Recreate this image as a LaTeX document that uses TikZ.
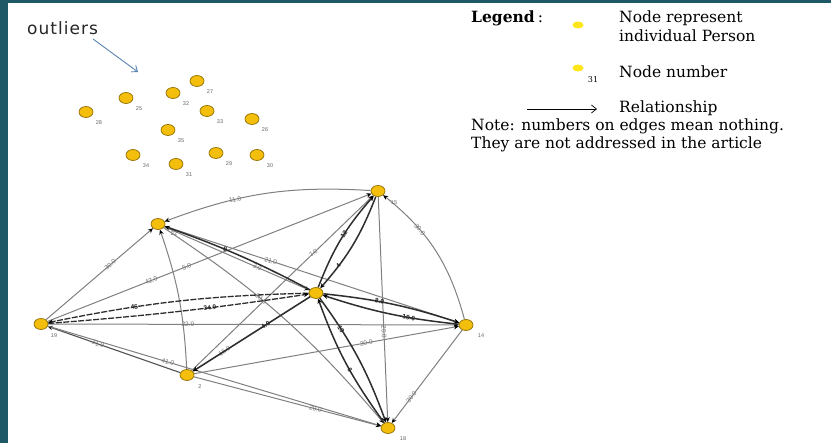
\documentclass[tikz,border=0pt]{standalone}
\usepackage{fontspec}
\setmainfont{DejaVu Serif}
\setsansfont{Liberation Sans}
\newfontfamily\outfont{DejaVu Sans}[LetterSpace=6]
\usetikzlibrary{shapes.geometric,arrows.meta}
\definecolor{bordercol}{HTML}{1F5866}
\definecolor{nodegold}{HTML}{F4BE0C}
\definecolor{nodeline}{HTML}{8E6E00}
\definecolor{legyellow}{HTML}{FFE61A}
\definecolor{outarrow}{HTML}{5B84B5}
\pgfdeclarelayer{bg}
\pgfsetlayers{bg,main}
\begin{document}
\begin{tikzpicture}[x=1pt,y=1pt,
  pnode/.style={ellipse, draw=nodeline, fill=nodegold, line width=0.7pt, minimum width=14pt, minimum height=11pt, inner sep=0pt},
  nlab/.style={font=\sffamily\fontsize{5.5}{6}\selectfont, text=black!60, inner sep=0pt},
  gedge/.style={draw=black!50, line width=1pt},
  medge/.style={draw=black!68, line width=1.1pt},
  dedge/.style={draw=black!82, line width=1.5pt},
  ddash/.style={draw=black!82, line width=1.3pt, dash pattern=on 6pt off 1.5pt},
  arr/.style={-{Stealth[length=5pt,width=4.5pt,color=black]}},
  elab/.style={font=\sffamily\fontsize{6.5}{6.5}\selectfont, text=black!55, sloped, inner sep=0.5pt},
  dlab/.style={font=\sffamily\bfseries\fontsize{6.5}{6.5}\selectfont, text=black!85, sloped, inner sep=0.5pt},
  legtext/.style={font=\fontsize{15.5}{16}\selectfont, anchor=base west, inner sep=0pt},
  legdot/.style={ellipse, fill=legyellow, minimum width=11pt, minimum height=7pt, inner sep=0pt},
]
\useasboundingbox (0,0) rectangle (831,-443);
\begin{pgfonlayer}{bg}
\fill[white] (0,0) rectangle (831,-443);
\fill[bordercol] (0,0) rectangle (8,-443);
\fill[bordercol] (0,0) rectangle (831,-3);
\end{pgfonlayer}

% outliers label and arrow
\node[font=\outfont\fontsize{17}{17}\selectfont, anchor=base west, inner sep=0pt, text=black!85] (outl) at (27,-35) {outliers};
\coordinate (oa1) at (93,-39);
\coordinate (oa2) at (138,-72);
\draw[outarrow, line width=0.9pt, -{Straight Barb[length=5pt,width=8pt]}] (oa1) -- (oa2);

% outlier nodes
\foreach \nm/\x/\y in {27/197/81, 32/173/93, 25/126/98, 28/86/112, 33/207/111, 26/252/119, 35/168/130, 34/133/155, 31/176/164, 29/216/153, 30/257/155}{
  \node[pnode] (o\nm) at (\x,-\y) {};
  \node[nlab] (ol\nm) at (\x+13,-\y-11) {\nm};
}

% legend
\node[legtext] (lg) at (471,-23) {\textbf{Legend}\hspace{3pt}:};
\node[legdot] (ld1) at (578,-25) {};
\node[legtext] (lt1) at (619,-23) {Node represent};
\node[legtext] (lt2) at (619,-42) {individual Person};
\node[legdot] (ld2) at (578,-68) {};
\node[font=\fontsize{8}{8}\selectfont, inner sep=0pt] (l31) at (593,-80) {31};
\node[legtext] (lt3) at (619,-78) {Node number};
\coordinate (la1) at (527,-109);
\coordinate (la2) at (597,-109);
\draw[black, line width=0.7pt, -{Straight Barb[length=5pt,width=8pt]}] (la1) -- (la2);
\node[legtext] (lt4) at (619,-113) {Relationship};
\node[legtext] (lt5) at (471,-131) {Note: numbers on edges mean nothing.};
\node[legtext] (lt6) at (471,-149) {They are not addressed in the article};

% network nodes
\node[pnode] (C) at (316,-293) {};
\node[pnode] (n15) at (378,-191) {};
\node[pnode] (n22) at (158,-224) {};
\node[pnode] (n19) at (41,-324) {};
\node[pnode] (n2) at (187,-375) {};
\node[pnode] (n18) at (388,-428) {};
\node[pnode] (n14) at (466,-325) {};
\node[nlab] (l15) at (394,-203) {15};
\node[nlab] (l22) at (174,-234) {22};
\node[nlab] (l19) at (54,-336) {19};
\node[nlab] (l2) at (200,-387) {2};
\node[nlab] (l18) at (403,-439) {18};
\node[nlab] (l14) at (481,-336) {14};

\begin{pgfonlayer}{bg}
% gray edges
\draw[gedge,arr] (n15) to[bend right=12] node[elab,pos=0.66]{11.0} (n22);
\draw[gedge,arr] (n19) -- node[elab,pos=0.6]{30.0} (n22);
\draw[gedge,arr] (n19) -- node[elab,pos=0.32]{42.0} node[elab,pos=0.43]{5.0} (n15);
\draw[gedge,arr] (n22) -- node[elab,pos=0.36]{21.0} (n14);
\draw[gedge,arr] (n22) -- node[elab,pos=0.64]{3.0} (C);
\draw[gedge,arr] (n22) to[bend left=8] node[elab,pos=0.4]{20.0} (n18);
\draw[gedge,arr] (n2) to[bend right=8] (n22);
\draw[gedge,arr] (n19) -- node[elab,pos=0.34]{22.0} (n14);
\draw[medge,arr] (n2) -- node[elab,pos=0.62]{21.0} (n19);
\draw[gedge,arr] (n19) -- node[elab,pos=0.36]{41.0} (n18);
\draw[gedge,arr] (n2) -- node[elab,pos=0.65]{29.0} (n18);
\draw[gedge,arr] (n2) -- node[elab,pos=0.67]{7.0} (n15);
\draw[gedge,arr] (C) -- node[elab,pos=0.73]{15.0} (n2);
\draw[gedge,arr] (n2) -- node[elab,pos=0.65]{30.0} (n14);
\draw[gedge,arr] (n15) -- node[elab,pos=0.6]{20.0} (n18);
\draw[gedge,arr] (n14) to[bend right=18] node[elab,pos=0.68]{30.0} (n15);
\draw[gedge,arr] (n14) -- node[elab,pos=0.72]{30.0} (n18);
% dark edges
\draw[dedge,arr] (C) to[bend right=4] node[dlab,pos=0.6]{9} (n22);
\draw[ddash,arr] (C) to[bend right=5] node[dlab,pos=0.68]{45} (n19);
\draw[ddash,arr] (n19) to[bend right=2] node[dlab,pos=0.63]{34.0} (C);
\draw[dedge,arr] (C) -- node[dlab,pos=0.38]{4.0} (n2);
\draw[dedge,arr] (C) to[bend left=10] node[dlab,pos=0.55]{12} (n15);
\draw[dedge,arr] (n15) to[bend left=10] node[dlab,pos=0.75]{4} (C);
\draw[dedge,arr] (C) to[bend left=8] node[dlab,pos=0.25]{10} (n18);
\draw[dedge,arr] (n18) to[bend left=8] node[dlab,pos=0.44]{6} (C);
\draw[dedge,arr] (C) to[bend left=6] node[dlab,pos=0.4]{8.0} (n14);
\draw[dedge,arr] (n14) to[bend left=6] node[dlab,pos=0.35]{19.0} (C);
\end{pgfonlayer}
\end{tikzpicture}
\end{document}
